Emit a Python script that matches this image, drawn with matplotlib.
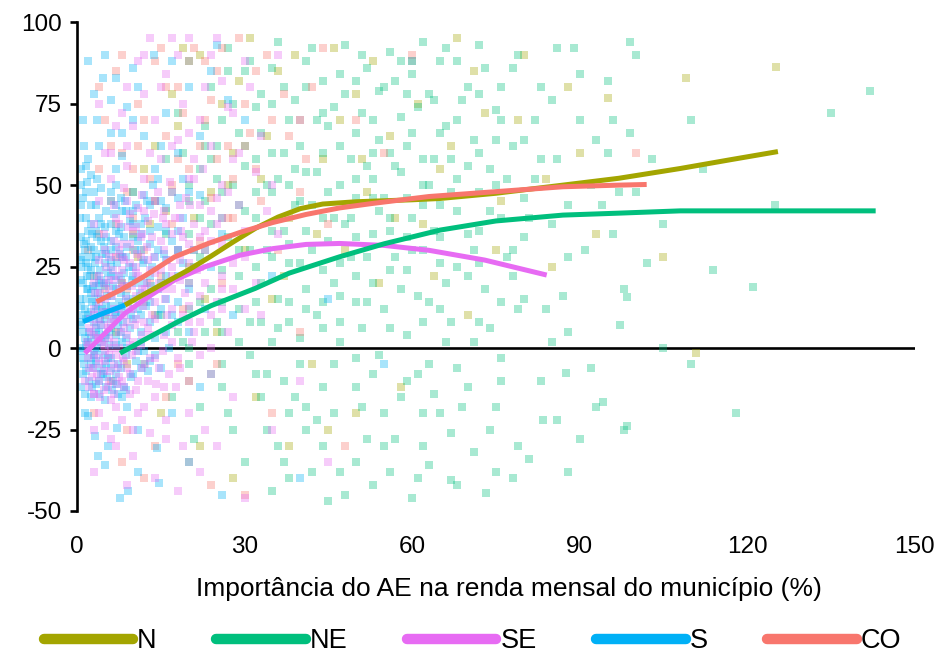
import matplotlib
matplotlib.use("Agg")
import matplotlib.pyplot as plt
from matplotlib.lines import Line2D

plt.rcParams['font.family'] = ['Liberation Sans', 'DejaVu Sans']

# ---------------- data ----------------
regions = ["N", "NE", "SE", "S", "CO"]
colors = {"N": "#A3A500", "NE": "#00BF7D", "SE": "#E76BF3", "S": "#00B0F6", "CO": "#F8766D"}

# smoothed curves (x = importance %, y = value)
n_x = [8.6, 12, 16, 20, 24, 28, 32, 36, 40, 44, 50, 60, 65, 75, 87, 97, 108, 117, 125.5]
n_y = [13.2, 16.5, 20.3, 24.0, 28.2, 32.6, 36.8, 40.2, 42.8, 44.2, 44.9, 45.5, 45.9, 47.5, 50.0, 52.1, 55.1, 57.8, 60.3]
ne_x = [7.7, 12, 18, 24, 31.9, 38, 47, 55, 65, 75, 87, 97, 108, 120, 143]
ne_y = [-1.6, 2.5, 8.0, 13.0, 18.3, 23.0, 28.0, 32.0, 36.2, 39.0, 40.8, 41.4, 42.1, 42.1, 42.1]
se_x = [1.4, 5, 8.6, 13, 17.5, 23, 29.2, 35, 41, 47, 55, 63, 73, 84.1]
se_y = [-1.6, 4.5, 10.7, 16.0, 20.9, 25.0, 28.5, 30.5, 31.8, 32.1, 31.5, 30.0, 27.0, 22.4]
s_x = [1.1, 4, 8.6]
s_y = [8.1, 10.2, 13.2]
co_x = [3.5, 8, 12, 17.5, 23.5, 29.2, 35, 41, 47, 53, 63, 75, 87, 97, 102]
co_y = [14.2, 18.0, 22.0, 28.0, 32.1, 35.5, 38.5, 41.0, 43.0, 44.4, 46.5, 48.0, 49.5, 50.0, 50.2]

# scatter points (approximate)
pts_s = [(1,5),(1.5,12),(2,18),(2,25),(2.5,-5),(3,8),(3,15),(3,30),(3.5,0),(4,20),(4,-10),(4.5,12),
         (5,26),(5,3),(5.5,-3),(6,16),(6,33),(6.5,9),(7,-8),(7,22),(7.5,14),(8,2),(8,28),(8.5,-12),
         (9,19),(9.5,6),(10,25),(10.5,-4),(11,12),(11.5,35),(12,-1),(12,20),(1,-8),(2,36),(4,40),
         (6,45),(3,48),(8,42),(10,38),(5,-16),(1.5,-14),(9,-18),(13,8),(14,28),(15,-6),(16,15),
         (18,22),(20,5),(7,50),(12,47),(1,10),(2,2),(1,20),(2.5,28),(3.5,22),(4,5),(5,9),(6,-6),
         (1.5,30),(3,-2),
         (0.5,0),(0.5,15),(0.8,25),(1,-3),(1.2,32),(1.5,3),(1.8,18),(2,10),(2.2,-10),(2.4,22),(2.7,14),
         (3,-6),(3.2,26),(3.4,4),(3.6,34),(3.8,17),(4,-14),(4.2,9),(4.4,29),(4.6,-2),(4.8,19),(5,37),
         (5.2,13),(5.4,-9),(5.6,23),(5.8,5),(6,30),(6.2,-13),(6.4,19),(6.6,41),(6.8,11),(7,1),(7.2,26),
         (7.4,-5),(7.6,35),(7.8,17),(8,-15),(8.2,8),(8.4,23),(8.6,45),(8.8,-2),(9,31),(9.2,14),
         (9.4,39),(9.6,-9),(9.8,21),(10,9),(10.3,30),(10.6,44),(10.9,-1),(11.2,17),(11.5,5),
         (11.8,26),(12.1,40),(12.4,13),(12.7,-7),(13,32),(13.3,19),(13.6,50),(14,3),(14.5,37),
         (15,12),(15.5,29),(16,43),(16.5,0),(17,33),(18,8),(19,40),(20,18),(21,30),(22,47),(24,25),
         (26,35),(0.6,40),(1,46),(1.5,-20),(2.5,44),(3.5,52),(0.7,55),(1.2,62),
         (0.5,8),(1,28),(1.3,-5),(1.7,22),(2.1,5),(2.6,35),(2.9,19),(3.3,-1),(3.7,12),(4.1,24),
         (4.5,-6),(4.9,31),(5.3,16),(5.7,1),(6.1,25),(6.5,-10),(6.9,36),(7.3,7),(7.7,29),(8.1,13),
         (8.5,34),(8.9,0),(9.3,25),(9.7,10),(10.1,42),(10.5,20),(11,33),(11.5,-6),(12,27),(12.5,45),
         (13,14),(13.5,25),(14,-2),(15,45),(16,22),(17,10),(18,36),(19,26),(20,48),(23,12),
         (4.7,83),(7,83),(10,86),(13.8,90),(3.5,70),(4,62),(1.7,51),(7,55),(8,59),(12,65),(16,72),
         (20,80),(25,93),(6,76),(2,58),(18,60),(10,70),
         (1,70),(3,78),(5,90),(8,66),(9,74),(11,80),(14,55),(15,62),(17,88),(19,52),(22,65),(24,85),
         (27,76),(2,88),(6,66),
         (2.6,-12),(3.2,-27),(3.8,-33),(5,-36),(7.1,-24.6),(7.7,-46),(9.1,-44),(14.6,-41.5),
         (14.3,-30.7),(11,-38),(5.6,-30),(2,-21),(7.3,-14),(4.7,-8),(17,-20),(20,-35),(22,-12),
         (11,-25),(26,-45),
         (28,10),(35,22),(45,15),(55,-5),(40,-40),(60,88),(30,70)]
# denser core columns for S: x -> list of y
core_s = {0.7: [-12, -1, 7, 13, 21, 27, 34, 44, 50], 1.6: [-7, 1, 9, 15, 26, 33, 40, 48, 56],
          2.5: [-15, -3, 3, 11, 17, 24, 31, 38, 53], 3.4: [-11, -4, 6, 13, 19, 28, 36, 44],
          4.3: [-8, 2, 7, 15, 21, 33, 38, 49], 5.2: [-12, -5, 4, 11, 20, 29, 34, 42],
          6.1: [-3, 6, 13, 22, 27, 38, 48], 7.0: [-11, 4, 10, 18, 31, 44], 7.9: [-6, 5, 11, 21, 37, 46],
          8.8: [-13, 3, 16, 28, 42], 10.0: [-8, 15, 22, 34, 48], 11.5: [2, 10, 30, 38],
          13.0: [-4, 22, 36, 44], 14.5: [10, 18, 30, 52], 16.0: [5, 27, 36], 18.0: [14, 30, 46]}
pts_se = [(2,-3),(2.5,5),(3,12),(3.5,-8),(4,22),(4.5,2),(5,15),(5,30),(5.5,-12),(6,8),(6.5,24),(7,40),
          (7,-2),(7.5,18),(8,32),(8.5,10),(9,-6),(9,45),(9.5,26),(10,2),(10,36),(10.5,16),(11,-10),
          (11.5,28),(12,8),(12,42),(12.5,20),(13,-3),(13.5,34),(14,14),(14.5,48),(15,24),(15.5,4),
          (16,38),(16.5,-8),(17,18),(18,30),(18.5,44),(19,10),(20,26),(21,52),(22,16),(23,36),(24,0),
          (25,46),(26,22),(28,58),(30,12),(6,52),(9,56),(13,60),(4,45),(3,38),(6,0),(8,20),(10,12),
          (7,28),(9,4),(11,22),(5,-4),(8,-10),
          (1.5,-10),(2,0),(2.3,9),(2.8,-6),(3.3,17),(3.7,3),(4.2,-15),(4.6,11),(5.1,25),(5.5,6),
          (5.9,-7),(6.3,16),(6.7,33),(7.2,-11),(7.6,5),(8,24),(8.3,-3),(8.7,15),(9.1,37),(9.5,-14),
          (9.9,19),(10.3,7),(10.7,29),(11,43),(11.4,1),(11.8,13),(12.2,-5),(12.6,31),(13,24),
          (13.4,10),(13.8,41),(14.2,-11),(14.6,20),(15,33),(15.4,-1),(15.8,15),(16.2,27),(16.6,51),
          (17,7),(17.5,40),(18,-3),(18.5,21),(19,34),(19.5,46),(20,13),(20.5,2),(21,38),(21.5,24),
          (22,8),(22.5,55),(23,30),(24,42),(25,14),(26,32),(27,5),(28,26),(29,44),(30,36),(32,20),
          (34,42),(12,52),(15,58),(18,64),(9,62),(6,60),(11,-20),(13,-26),(7,-18),(5,-24),(16,-22),
          (19,-30),(23,-25),(3,-14),(4,-5),(6,-16),
          (1.8,2),(2.6,-9),(3.4,7),(4.2,17),(5,-1),(5.8,21),(6.6,12),(7.4,-6),(8.2,28),(9,8),(9.8,-2),
          (10.6,23),(11.4,34),(12.2,18),(13,4),(13.8,28),(14.6,-6),(15.4,40),(16.2,10),(17,25),
          (17.8,-12),(18.6,36),(19.4,17),(20.2,44),(21,5),(22,34),(23,20),(24,-8),(25,38),(26,12),
          (27,48),(28,18),(30,28),(33,10),(36,35),(3,-25),(7,-30),(10,-25),(14,-15),(20,-10),
          (13,95),(17,95),(20,95),(24,90),(15,80),(19,75),(22,70),(10,68),(26,82),(12,78),(30,88),
          (33,65),(28,72),(17,62),(8,72),(35,50),(40,70),
          (5,60),(7,68),(9,80),(11,88),(14,70),(16,84),(18,90),(20,66),(23,80),(25,95),(27,74),(29,60),
          (31,80),(36,90),(4,75),(12,90),(21,58),(24,62),(26,50),(32,54),
          (4,-20),(6,-28),(8,-22),(10,-33),(12,-18),(14,-40),(16,-28),(18,-44),(20,-20),(22,-38),
          (25,-30),(28,-15),(3,-38),(9,-42),(30,-46),(35,-25),(40,-10),(45,-35)]
core_se = {2.2: [-12, -6, 1, 6], 3.1: [-14, -2, 4, 10, 20], 4.0: [-10, -3, 3, 9, 14, 27],
           4.9: [-13, -7, 1, 7, 20, 35], 5.8: [-10, -2, 3, 11, 18, 28], 6.7: [-14, -5, 2, 9, 21, 44],
           7.6: [-9, 0, 12, 22, 30, 38], 8.5: [-12, -4, 6, 19, 27, 49], 9.4: [-8, 1, 12, 32, 41],
           10.5: [-13, -1, 9, 25, 37], 11.6: [-6, 4, 18, 35, 47], 12.7: [-10, 6, 16, 27, 39],
           14.0: [-3, 9, 23, 45], 15.5: [-12, 18, 30, 42], 17.0: [2, 12, 22, 35, 48],
           18.5: [-6, 27, 40], 20.0: [8, 20, 32, 52], 22.0: [-2, 25, 44], 24.0: [10, 33], 26.0: [18, 40]}
pts_ne = [(20,88),(24,80),(27,92),(30,85),(33,78),(36,94),(38,70),(41,88),(44,82),(46,74),(48,93),
          (50,66),(52,86),(54,79),(56,91),(58,71),(60,84),(62,94),(64,76),(66,68),(68,88),(70,80),
          (72,93),(75,73),(78,86),(80,64),(83,80),(86,92),(90,70),(95,60),(99,94),(103,58),(110,70),
          (135,72),(142,79),
          (18,30),(20,45),(22,55),(24,38),(26,24),(28,50),(30,42),(32,58),(34,30),(35,48),(37,36),
          (39,55),(40,26),(42,44),(44,60),(45,33),(47,50),(49,40),(50,22),(52,56),(53,35),(55,46),
          (57,28),(58,54),(60,40),(62,30),(63,50),(65,44),(67,58),(68,25),(70,35),(72,48),(74,55),
          (76,40),(78,30),(80,46),(82,52),(85,38),(88,44),(92,50),(96,35),(100,48),(105,38),
          (112,55),(125,44),(113.9,24),(121,18.7),(98.4,15.7),(97.2,7),
          (15,20),(16,35),(17,48),(18,5),(19,60),(20,-5),(21,25),(22,40),(23,68),(24,18),(25,52),
          (26,-12),(27,34),(28,75),(29,22),(30,56),(31,8),(32,40),(33,66),(34,-8),(35,28),(36,52),
          (37,80),(38,14),(39,44),(40,62),(41,-25),(42,30),(43,70),(44,6),(45,48),(46,20),(47,84),
          (48,38),(49,58),(50,-3),(51,72),(52,28),(53,46),(54,64),(55,-20),(56,36),(57,82),(58,18),
          (59,62),(60,30),(61,74),(62,50),(63,-5),(64,36),(65,88),(66,20),(67,48),(68,70),(69,-18),
          (70,56),(71,30),(72,78),(73,18),(74,42),(75,64),(76,-10),(77,52),(78,22),(79,90),(80,34),
          (82,70),(84,12),(86,58),(88,28),(90,84),(92,-6),(94,44),(96,70),(98,18),(100,90),(102,26),
          (30,62),(31,30),(32,74),(33,20),(34,50),(35,86),(36,6),(37,60),(38,32),(39,76),(40,45),
          (41,12),(42,92),(43,54),(44,24),(45,68),(46,40),(47,2),(48,78),(49,28),(50,52),(51,90),
          (52,14),(53,60),(54,42),(55,80),(56,24),(57,56),(58,88),(59,34),(60,66),(61,16),(62,44),
          (63,78),(64,58),(65,26),(66,92),(67,8),(68,42),(69,76),(70,22),(71,64),(72,36),(73,86),
          (74,6),(75,50),(76,80),(77,28),(78,62),(79,12),(81,40),(83,58),(85,76),(87,16),(89,92),
          (91,30),(93,64),(95,82),(97,48),(99,66),(33,-15),(37,-35),(40,-5),(43,-22),(47,-38),
          (51,-18),(55,-30),(59,-10),(63,-36),(67,-26),(71,2),(75,-18),(81,-34),(85,2),(90,-28),
          (26,40),(24,58),(22,28),(27,85),(25,8),
          (14,45),(16,58),(18,72),(20,12),(22,-18),(25,62),(28,-25),(31,88),(36,-30),(39,-15),
          (42,-38),(46,-20),(50,-35),(53,-42),(57,-28),(61,-40),(64,-14),(71,-32),(75,-38),(79,-30),
          (12,-5),(15,10),(17,-15),(19,2),(21,-28),(22,14),(24,-8),(26,5),(27,-20),(29,12),(30,-35),
          (31,-2),(33,8),(34,-25),(36,15),(37,-10),(38,-40),(40,3),(41,-18),(43,10),(44,-30),(46,-5),
          (47,16),(48,-45),(50,-12),(51,6),(52,-28),(54,-2),(55,12),(56,-38),(58,-15),(59,4),(61,-8),
          (62,-30),(63,14),(65,-20),(66,2),(68,-42),(70,-12),(72,8),(74,-25),(76,-3),(78,-40),(80,15),
          (83,-10),(86,-22),(88,5),(93,-18),(98,-25),(105,0),(110,-5),(118,-20),(88,-38),(60,-46),
          (45,-47),(35,-44),(67,-40.5),(73.3,-44.6),(87.6,-7.8),(94.2,-16.5),(83.4,-22),(98.4,-24)]
core_ne = {20: [0, 20, 35, 50], 23: [5, 30, 45, 62], 26: [-5, 14, 48, 70], 29: [2, 30, 44, 66],
           32: [-8, 14, 25, 48], 35: [2, 36, 60, 75], 38: [-20, 8, 26, 50], 41: [18, 36, 54, 80],
           44: [-12, 14, 40, 72], 47: [8, 26, 62], 50: [14, 34, 46, 82], 53: [-8, 20, 52, 70],
           56: [6, 40, 60], 59: [24, 46, 78], 62: [-20, 8, 58], 65: [12, 34, 66], 68: [-6, 52],
           72: [26, 60], 76: [14, 70]}
pts_n = [(8,20),(10,35),(12,55),(14,10),(16,42),(18,68),(20,25),(22,90),(24,48),(25,5),(26,75),(28,60),
         (30,30),(31,95),(33,52),(35,15),(36,85),(38,40),(40,70),(42,-5),(44,58),(46,92),(48,30),
         (50,78),(52,48),(54,20),(56,65),(58,-12),(60,88),(62,38),(65,55),(68,95),(70,10),(73,72),
         (76,45),(80,90),(85,25),(90,60),(95,76.6),(105,28),(109,83),(110.9,-1.6),(125.2,86.3),
         (15,-20),(22,-30),(32,-15),(45,-25),(11,28),(7,5),(13,38),
         (10,48),(14,62),(17,78),(19,92),(21,40),(23,15),(27,50),(29,82),(34,65),(37,22),(39,90),
         (43,35),(47,70),(51,58),(53,88),(57,40),(61,75),(64,22),(67,62),(71,85),(75,30),(79,70),
         (84,52),(88,80),(93,35),(20,-10),(28,-40),(38,-30),(50,-20),(9,-5)]
pts_co = [(3,22),(4,35),(5,10),(6,45),(7,28),(8,60),(9,18),(10,40),(11,75),(12,30),(13,52),(14,88),
          (15,22),(16,65),(17,38),(18,80),(19,12),(20,55),(21,92),(22,33),(23,70),(24,46),(25,85),
          (26,20),(27,62),(28,40),(30,75),(32,55),(34,90),(36,30),(38,65),(40,48),(42,80),(45,38),
          (50,70),(55,60),(60,90),(6,-10),(9,-25),(12,-40),(16,-15),(20,-35),(25,-5),(30,-45),
          (35,-20),(40,5),(48,-30),(100,60),
          (2,30),(4,55),(5,70),(7,85),(9,48),(11,62),(13,20),(15,92),(17,50),(19,72),(21,30),(23,88),
          (25,58),(27,40),(29,95),(31,66),(33,45),(37,78),(41,58),(44,92),(3,-20),(8,-35),(14,-30),
          (18,-5),(24,-42),(10,30),(12,14),(7,38),(5,18),
          (4,80),(6,62),(8,90),(10,55),(12,70),(14,45),(16,80),(18,58),(20,88),(22,62),(24,76),
          (26,92),(28,52),(30,62),(32,85),(35,70)]

x_ticks = [0, 30, 60, 90, 120, 150]
y_ticks = [-50, -25, 0, 25, 50, 75, 100]
x_label = "Importância do AE na renda mensal do município (%)"


def columns_to_points(cols):
    return [(x, y) for x, ys in cols.items() for y in ys]


scatter_data = {
    "N": pts_n,
    "NE": pts_ne + columns_to_points(core_ne),
    "CO": pts_co,
    "SE": pts_se + columns_to_points(core_se),
    "S": pts_s + columns_to_points(core_s),
}

# ---------------- figure ----------------
fig = plt.figure(figsize=(9.45, 6.53), dpi=100)
ax = fig.add_axes([0.0815, 0.2175, 0.8865, 0.7485])

ax.axhline(0, color="black", lw=1.9, zorder=1)

for key in ["N", "NE", "CO", "S", "SE"]:
    pts = scatter_data[key]
    xs = [p[0] for p in pts]
    ys = [p[1] for p in pts]
    ax.scatter(xs, ys, s=26, marker="s", color=colors[key], alpha=0.34, linewidths=0, zorder=2)

curves = [("S", s_x, s_y), ("SE", se_x, se_y), ("NE", ne_x, ne_y), ("N", n_x, n_y), ("CO", co_x, co_y)]
for key, xs, ys in curves:
    ax.plot(xs, ys, color=colors[key], lw=3.6, solid_capstyle="butt", solid_joinstyle="round", zorder=3)

ax.set_xlim(0, 150)
ax.set_ylim(-50, 100)
ax.set_xticks(x_ticks)
ax.set_yticks(y_ticks)
ax.set_xticklabels([str(v) for v in x_ticks])
ax.set_yticklabels([str(v) for v in y_ticks])
for sp in ["top", "right", "bottom"]:
    ax.spines[sp].set_visible(False)
ax.spines["left"].set_linewidth(1.9)
ax.tick_params(axis="y", direction="out", length=5, width=1.9, labelsize=17.5, pad=6)
ax.tick_params(axis="x", length=0, labelsize=17.5, pad=18)
ax.set_xlabel(x_label, fontsize=19, labelpad=14)
ax.xaxis.label.set_x(0.516)

handles = [Line2D([0], [0], color=colors[k], lw=7.5, solid_capstyle="round") for k in regions]
fig.legend(handles, regions, loc="center", bbox_to_anchor=(0.5, 0.018), ncol=5, frameon=False,
           fontsize=19.5, handlelength=3.3, handletextpad=0.15, columnspacing=2.2)

fig.savefig("out.png", dpi=100)
